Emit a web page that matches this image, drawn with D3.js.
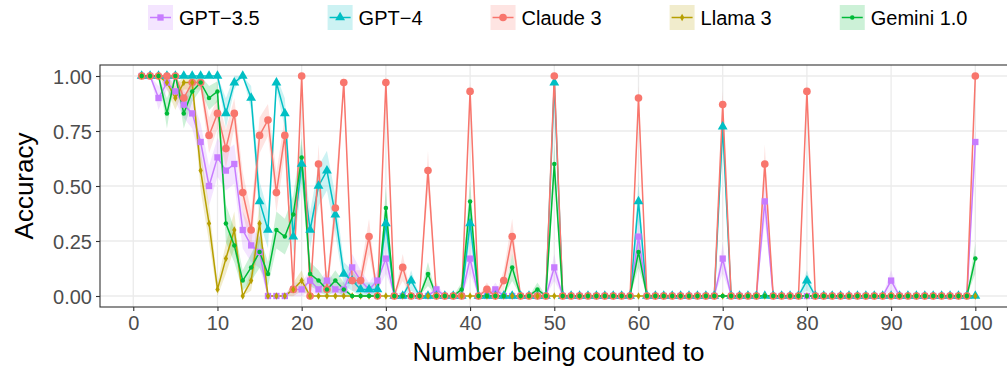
<!DOCTYPE html>
<html>
<head>
<meta charset="utf-8">
<script src="https://cdn.jsdelivr.net/npm/d3@7"></script>
<style>
  body { margin: 0; background: #fff; }
  svg { display: block; font-family: "Liberation Sans", Arial, Helvetica, sans-serif; }
</style>
</head>
<body>
<div class="chart"></div>
<script>
// number being counted to: 1..100
var counts = d3.range(1, 101);

var models = ['GPT-3.5', 'GPT-4', 'Claude 3', 'Llama 3', 'Gemini 1.0'];
var legendLabels = ['GPT\u22123.5', 'GPT\u22124', 'Claude 3', 'Llama 3', 'Gemini 1.0'];
var colors = ['#C77CFF', '#00BFC4', '#F8766D', '#B79F00', '#00BA38'];

var yTicks = [0, 0.25, 0.5, 0.75, 1];
var xTicks = [0, 10, 20, 30, 40, 50, 60, 70, 80, 90, 100];

// accuracy values (30 trials each)
var gpt35 = [
  1.00, 1.00, 0.90, 0.97, 0.93, 0.87, 0.83, 0.70, 0.50, 0.63,
  0.57, 0.60, 0.30, 0.23, 0.20, 0.00, 0.00, 0.00, 0.03, 0.03,
  0.07, 0.03, 0.07, 0.03, 0.03, 0.13, 0.07, 0.03, 0.07, 0.17,
  0.00, 0.00, 0.00, 0.00, 0.00, 0.03, 0.00, 0.00, 0.00, 0.17,
  0.00, 0.00, 0.03, 0.00, 0.00, 0.00, 0.00, 0.00, 0.00, 0.13,
  0.00, 0.00, 0.00, 0.00, 0.00, 0.00, 0.00, 0.00, 0.00, 0.27,
  0.00, 0.00, 0.00, 0.00, 0.00, 0.00, 0.00, 0.00, 0.00, 0.17,
  0.00, 0.00, 0.00, 0.00, 0.43, 0.00, 0.00, 0.00, 0.00, 0.00,
  0.00, 0.00, 0.00, 0.00, 0.00, 0.00, 0.00, 0.00, 0.00, 0.07,
  0.00, 0.00, 0.00, 0.00, 0.00, 0.00, 0.00, 0.00, 0.00, 0.70
];
var gpt4 = [
  1.00, 1.00, 1.00, 1.00, 1.00, 1.00, 1.00, 1.00, 1.00, 1.00,
  0.83, 0.97, 1.00, 0.90, 0.43, 0.30, 0.97, 0.83, 0.27, 0.60,
  0.30, 0.50, 0.57, 0.37, 0.10, 0.07, 0.03, 0.03, 0.03, 0.33,
  0.00, 0.00, 0.07, 0.00, 0.00, 0.00, 0.00, 0.00, 0.00, 0.33,
  0.00, 0.00, 0.00, 0.00, 0.00, 0.00, 0.00, 0.00, 0.00, 0.97,
  0.00, 0.00, 0.00, 0.00, 0.00, 0.00, 0.00, 0.00, 0.00, 0.43,
  0.00, 0.00, 0.00, 0.00, 0.00, 0.00, 0.00, 0.00, 0.00, 0.77,
  0.00, 0.00, 0.00, 0.00, 0.00, 0.00, 0.00, 0.00, 0.00, 0.07,
  0.00, 0.00, 0.00, 0.00, 0.00, 0.00, 0.00, 0.00, 0.00, 0.00,
  0.00, 0.00, 0.00, 0.00, 0.00, 0.00, 0.00, 0.00, 0.00, 0.00
];
var claude3 = [
  1.00, 1.00, 1.00, 1.00, 1.00, 0.90, 0.97, 0.97, 0.73, 0.83,
  0.67, 0.83, 0.47, 0.30, 0.73, 0.80, 0.47, 0.73, 0.03, 1.00,
  0.00, 0.60, 0.03, 0.40, 0.97, 0.07, 0.07, 0.27, 0.00, 0.97,
  0.00, 0.13, 0.00, 0.00, 0.57, 0.00, 0.00, 0.00, 0.00, 0.93,
  0.00, 0.03, 0.00, 0.07, 0.27, 0.00, 0.00, 0.00, 0.00, 1.00,
  0.00, 0.00, 0.00, 0.00, 0.00, 0.00, 0.00, 0.00, 0.00, 0.90,
  0.00, 0.00, 0.00, 0.00, 0.00, 0.00, 0.00, 0.00, 0.00, 0.87,
  0.00, 0.00, 0.00, 0.00, 0.60, 0.00, 0.00, 0.00, 0.00, 0.93,
  0.00, 0.00, 0.00, 0.00, 0.00, 0.00, 0.00, 0.00, 0.00, 0.00,
  0.00, 0.00, 0.00, 0.00, 0.00, 0.00, 0.00, 0.00, 0.00, 1.00
];
var llama3 = [
  1.00, 1.00, 1.00, 0.97, 0.90, 0.97, 0.97, 0.57, 0.33, 0.03,
  0.17, 0.30, 0.00, 0.07, 0.33, 0.00, 0.00, 0.00, 0.03, 0.07,
  0.00, 0.00, 0.00, 0.00, 0.00, 0.00, 0.00, 0.00, 0.00, 0.00,
  0.00, 0.00, 0.00, 0.00, 0.00, 0.00, 0.00, 0.00, 0.00, 0.00,
  0.00, 0.00, 0.00, 0.00, 0.00, 0.00, 0.00, 0.00, 0.00, 0.00,
  0.00, 0.00, 0.00, 0.00, 0.00, 0.00, 0.00, 0.00, 0.00, 0.00,
  0.00, 0.00, 0.00, 0.00, 0.00, 0.00, 0.00, 0.00, 0.00, 0.00,
  0.00, 0.00, 0.00, 0.00, 0.00, 0.00, 0.00, 0.00, 0.00, 0.00,
  0.00, 0.00, 0.00, 0.00, 0.00, 0.00, 0.00, 0.00, 0.00, 0.00,
  0.00, 0.00, 0.00, 0.00, 0.00, 0.00, 0.00, 0.00, 0.00, 0.00
];
var gemini = [
  1.00, 1.00, 1.00, 0.83, 1.00, 0.83, 0.93, 0.97, 0.90, 0.93,
  0.33, 0.23, 0.07, 0.13, 0.20, 0.10, 0.30, 0.27, 0.37, 0.63,
  0.10, 0.07, 0.03, 0.07, 0.03, 0.00, 0.00, 0.00, 0.00, 0.40,
  0.00, 0.00, 0.00, 0.00, 0.10, 0.00, 0.00, 0.00, 0.03, 0.43,
  0.00, 0.00, 0.00, 0.00, 0.13, 0.00, 0.00, 0.03, 0.00, 0.60,
  0.00, 0.00, 0.00, 0.00, 0.00, 0.00, 0.00, 0.00, 0.00, 0.20,
  0.00, 0.00, 0.00, 0.00, 0.00, 0.00, 0.00, 0.00, 0.00, 0.00,
  0.00, 0.00, 0.00, 0.00, 0.00, 0.00, 0.00, 0.00, 0.00, 0.00,
  0.00, 0.00, 0.00, 0.00, 0.00, 0.00, 0.00, 0.00, 0.00, 0.00,
  0.00, 0.00, 0.00, 0.00, 0.00, 0.00, 0.00, 0.00, 0.00, 0.17
];
var seriesValues = [gpt35, gpt4, claude3, llama3, gemini];
var trials = 30;

var width = 1007, height = 368;
var panel = {left: 100, top: 65, width: 917, height: 242};

var svg = d3.select('.chart').append('svg')
    .attr('width', width).attr('height', height);

var x = d3.scaleLinear()
    .domain([1 - 0.05 * 99, 100 + 0.05 * 99])
    .range([panel.left, panel.left + panel.width]);
var y = d3.scaleLinear()
    .domain([-0.05, 1.05])
    .range([panel.top + panel.height, panel.top]);

svg.append('defs').append('clipPath').attr('id', 'panel-clip')
    .append('rect')
    .attr('x', panel.left).attr('y', panel.top)
    .attr('width', panel.width).attr('height', panel.height);

// grid
var grid = svg.append('g');
grid.selectAll('.hgrid').data(yTicks).enter().append('line')
    .attr('x1', panel.left).attr('x2', panel.left + panel.width)
    .attr('y1', function(d) { return y(d); }).attr('y2', function(d) { return y(d); })
    .style('stroke', '#EBEBEB').style('stroke-width', '1.3px');
grid.selectAll('.vgrid').data(xTicks).enter().append('line')
    .attr('y1', panel.top).attr('y2', panel.top + panel.height)
    .attr('x1', function(d) { return x(d); }).attr('x2', function(d) { return x(d); })
    .style('stroke', '#EBEBEB').style('stroke-width', '1.3px');

var series = models.map(function(m, i) {
    return {
        name: m,
        color: colors[i],
        points: counts.map(function(c, j) {
            var p = seriesValues[i][j];
            var se = Math.sqrt(p * (1 - p) / trials);
            return {x: c, y: p, lo: p - se, hi: p + se};
        })
    };
});

var plot = svg.append('g').attr('clip-path', 'url(#panel-clip)');

// ribbons
var area = d3.area()
    .x(function(d) { return x(d.x); })
    .y0(function(d) { return y(d.lo); })
    .y1(function(d) { return y(d.hi); });
plot.selectAll('.ribbon').data(series).enter().append('path')
    .attr('d', function(s) { return area(s.points); })
    .style('fill', function(s) { return s.color; })
    .style('fill-opacity', 0.2)
    .style('stroke', 'none');

// lines
var line = d3.line()
    .x(function(d) { return x(d.x); })
    .y(function(d) { return y(d.y); });
plot.selectAll('.series-line').data(series).enter().append('path')
    .attr('d', function(s) { return line(s.points); })
    .style('fill', 'none')
    .style('stroke', function(s) { return s.color; })
    .style('stroke-width', '1.5px')
    .style('stroke-linejoin', 'round');

// points
var shapes = [
    d3.symbol().type(d3.symbolSquare).size(40),
    d3.symbol().type(d3.symbolTriangle).size(42),
    d3.symbol().type(d3.symbolCircle).size(46),
    d3.symbol().type(d3.symbolDiamond).size(16),
    d3.symbol().type(d3.symbolCircle).size(16)
];
series.forEach(function(s, i) {
    plot.append('g').selectAll('path').data(s.points).enter().append('path')
        .attr('transform', function(d) { return 'translate(' + x(d.x) + ',' + y(d.y) + ')'; })
        .attr('d', shapes[i])
        .style('fill', s.color);
});

// panel border
svg.append('rect')
    .attr('x', panel.left).attr('y', panel.top)
    .attr('width', panel.width).attr('height', panel.height)
    .style('fill', 'none').style('stroke', '#333333').style('stroke-width', '1.1px');

// axes
var yAxis = svg.append('g')
    .attr('transform', 'translate(' + panel.left + ',0)')
    .call(d3.axisLeft(y).tickValues(yTicks).tickFormat(d3.format('.2f')).tickSize(4).tickPadding(4));
var xAxis = svg.append('g')
    .attr('transform', 'translate(0,' + (panel.top + panel.height) + ')')
    .call(d3.axisBottom(x).tickValues(xTicks).tickSize(4).tickPadding(5));
[yAxis, xAxis].forEach(function(a) {
    a.select('.domain').remove();
    a.selectAll('line').style('stroke', '#333333').style('stroke-width', '1.1px');
    a.selectAll('text').style('fill', '#4D4D4D').style('font-size', '20px')
        .style('font-family', '"Liberation Sans", Arial, sans-serif');
});
yAxis.selectAll('text').attr('dy', '0.36em');

svg.append('text')
    .attr('transform', 'translate(33,' + (panel.top + panel.height / 2) + ') rotate(-90)')
    .attr('text-anchor', 'middle')
    .style('font-size', '26px').style('fill', '#000')
    .text('Accuracy');
svg.append('text')
    .attr('x', panel.left + panel.width / 2).attr('y', 361)
    .attr('text-anchor', 'middle')
    .style('font-size', '26px').style('fill', '#000')
    .text('Number being counted to');

// legend
var legend = svg.append('g');
var lx = 148, keySize = 25, keyTop = 5;
series.forEach(function(s, i) {
    var item = legend.append('g').attr('transform', 'translate(' + lx + ',' + keyTop + ')');
    item.append('rect')
        .attr('width', keySize).attr('height', keySize)
        .style('fill', s.color).style('fill-opacity', 0.2);
    item.append('line')
        .attr('x1', 2).attr('x2', keySize - 2)
        .attr('y1', keySize / 2).attr('y2', keySize / 2)
        .style('stroke', s.color).style('stroke-width', '1.5px');
    item.append('path')
        .attr('transform', 'translate(' + keySize / 2 + ',' + keySize / 2 + ')')
        .attr('d', shapes[i])
        .style('fill', s.color);
    var t = item.append('text')
        .attr('x', keySize + 6).attr('y', keySize / 2)
        .attr('dy', '0.36em')
        .style('font-size', '20px').style('fill', '#000')
        .text(legendLabels[i]);
    lx += keySize + 6 + t.node().getComputedTextLength() + 68;
});
</script>
</body>
</html>
